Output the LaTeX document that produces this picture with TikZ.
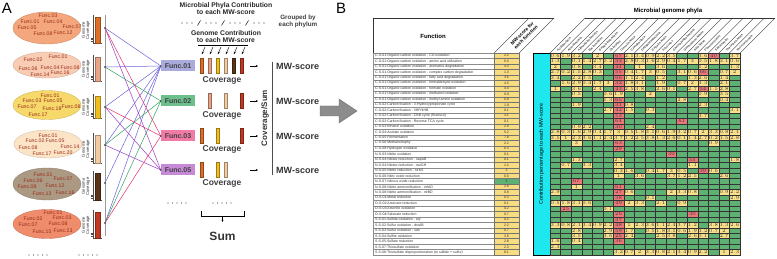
\documentclass[tikz,border=0pt]{standalone}
\usepackage{fontspec}
\setmainfont{Liberation Sans}
\usetikzlibrary{shapes.geometric,% ellipses for the phyla
arrows.meta,%                       small arrow heads
positioning}
\definecolor{ph1}{HTML}{F4A77C}
\definecolor{ph2}{HTML}{F9CCB4}
\definecolor{ph3}{HTML}{F6D86B}
\definecolor{ph4}{HTML}{FCE4C7}
\definecolor{ph5}{HTML}{AC9983}
\definecolor{ph6}{HTML}{EE8C6C}
\definecolor{bar1}{HTML}{DD6F26}
\definecolor{bar2}{HTML}{E9A486}
\definecolor{bar3}{HTML}{F1BD1F}
\definecolor{bar4}{HTML}{F4CBA0}
\definecolor{bar5}{HTML}{5A3519}
\definecolor{bar6}{HTML}{C03A22}
\definecolor{fb1}{HTML}{A9ABDD}
\definecolor{fb2}{HTML}{6DBF8B}
\definecolor{fb3}{HTML}{F27AA6}
\definecolor{fb5}{HTML}{C68AD7}
\definecolor{ln1}{HTML}{6A62D8}
\definecolor{ln2}{HTML}{2FA45E}
\definecolor{ln3}{HTML}{E5306C}
\definecolor{ln5}{HTML}{9B3DC4}
\definecolor{fntext}{HTML}{9A2B16}
\definecolor{hgreen}{HTML}{5FB173}
\definecolor{hyel}{HTML}{F9E08B}
\definecolor{hred}{HTML}{EC7779}
\definecolor{myel}{HTML}{F8DC7F}
\definecolor{hcyan}{HTML}{1FE7EF}
\newcommand{\fsz}[1]{\fontsize{#1}{#1}\selectfont}
\tikzset{every node/.style={font=\fsz{5}, inner sep=0pt},
  phylum/.style={ellipse, minimum width=68pt, line width=0.4pt},
  fn/.style={font=\fsz{5.2}, text=fntext},
  funcbox/.style={font=\bfseries\fsz{7}, text=black!75, minimum width=34pt,
    minimum height=11pt, inner sep=1pt},
  covtxt/.style={font=\bfseries\fsz{8.5}, text=black!75},
  mwtxt/.style={font=\bfseries\fsz{9}, text=black!80, anchor=west},
  hdr/.style={font=\bfseries\fontsize{6.8}{7.2}\selectfont, align=center, text=black!85},
  smallarr/.style={-{Stealth[length=2.2pt,width=2pt]}, line width=0.45pt},
  hline/.style={line width=0.35pt, black!80},
  frow/.style={font=\fsz{3.5}, text=black!80, anchor=west},
  cell/.style={draw=black!80, line width=0.3pt},
  cellval/.style={font=\fsz{3}, text=black!80}}
% the Func labels inside one phylum ellipse
\newcommand{\phyfuncs}[2]{\foreach \fno/\px/\py in {#2}
  \node[fn] (#1-\fno) at (\px,\py) {Func.\fno};}
% genome coverage bar beside a phylum: name, base, top, colour
\newcommand{\covbar}[4]{%
  \draw[line width=0.4pt, black!70] (93,{#3-2}) -- (93,#2) -- (102,#2);
  \foreach \q in {1,2,3}
    \draw[line width=0.3pt, black!70] (90.5,{#2-\q*1.7}) -- (93,{#2-\q*1.7});
  \draw[fill=#4, draw=#4!70!black, line width=0.3pt] (95.5,#2) rectangle (100.5,#3);
  \node[rotate=90, align=center, font=\fontsize{4.2}{4.4}\selectfont, text=black!80]
    (#1) at (86,{(#2+#3)/2}) {Genome\\Coverage};}
% bars of one function row: row y, position/colour pairs
\newcommand{\genbars}[2]{\foreach \kk/\cc in {#2}
  \draw[fill=\cc, draw=\cc!65!black, line width=0.3pt]
    ({194+\kk*8-1.5},{#1-7.5}) rectangle ++(3,15);}

\begin{document}
\begin{tikzpicture}[x=1pt,y=-1pt]
  \useasboundingbox (0,0) rectangle (777,259);
  \node[font=\fsz{15}] (la) at (7,8) {A};
  \node[font=\fsz{15}] (lb) at (341,8) {B};
  % phyla with their functions
  \node[phylum, fill=ph1, draw=ph1!85!black, minimum height=32pt] (e1) at (47,28) {};
  \node[phylum, fill=ph2, draw=ph2!85!black, minimum height=26pt] (e2) at (47,65) {};
  \node[phylum, fill=ph3, draw=ph3!85!black, minimum height=29pt] (e3) at (47,105) {};
  \node[phylum, fill=ph4, draw=ph4!85!black, minimum height=28pt] (e4) at (48,144) {};
  \node[phylum, fill=ph5, draw=ph5!85!black, minimum height=32pt] (e5) at (47,184) {};
  \node[phylum, fill=ph6, draw=ph6!85!black, minimum height=29pt] (e6) at (47,224) {};
  \phyfuncs{e1}{03/48/16, 01/30/22, 04/53/22, 05/27/28, 07/72/27, 08/43/34, 12/63/33}
  \phyfuncs{e2}{01/58/57, 02/33/60, 06/28/69, 04/50/68, 08/70/68, 14/40/75, 16/60/73}
  \phyfuncs{e3}{01/50/96, 03/32/101, 05/53/101, 07/27/107, 18/52/109, 08/71/107, 17/38/115}
  \phyfuncs{e4}{01/48/136, 02/35/141, 05/55/141, 08/28/148, 14/70/147, 17/42/154, 20/63/153}
  \phyfuncs{e5}{01/43/175, 06/33/181, 07/63/179, 09/27/187, 12/55/186, 13/42/194, 16/65/193}
  \phyfuncs{e6}{01/53/213, 02/33/219, 03/62/218, 07/28/225, 08/58/224, 15/42/232, 23/63/231}
  \covbar{g1}{43}{17}{bar1}
  \covbar{g2}{81}{57}{bar2}
  \covbar{g3}{118}{96}{bar3}
  \covbar{g4}{163}{135}{bar4}
  \covbar{g5}{200}{173}{bar5}
  \covbar{g6}{238}{212}{bar6}
  \draw[black!40, line width=1pt] (105,15) -- (105,236);
  \foreach \dd/\yy in {d1/28, d2/67, d3/107, d4/145, d5/183, d6/223}
    \coordinate (\dd) at (105,\yy);
  % functions
  \node[funcbox, fill=fb1] (f1) at (178,66) {Func.01};
  \node[funcbox, fill=fb2] (f2) at (178,101) {Func.02};
  \node[funcbox, fill=fb3] (f3) at (178,136) {Func.03};
  \node[funcbox, fill=fb5] (f5) at (178,170) {Func.05};
  \foreach \s/\t/\cc in {d1/f1/ln1, d2/f1/ln1, d3/f1/ln1, d4/f1/ln1, d5/f1/ln1, d6/f1/ln1,
      d2/f2/ln2, d4/f2/ln2, d6/f2/ln2, d1/f3/ln3, d3/f3/ln3, d6/f3/ln3,
      d1/f5/ln5, d3/f5/ln5, d4/f5/ln5}
    \draw[\cc, line width=0.5pt] (\s) -- (\t.west);
  \foreach \dd in {d1,d2,d3,d4,d5,d6} \fill[black!65] (\dd) circle (1.1pt);
  \foreach \t in {f1,f2,f3,f5} \fill[black!75] (\t.west) circle (0.9pt);
  % genome contributions
  \genbars{66}{1/bar1, 2/bar2, 3/bar3, 4/bar4, 5/bar5, 6/bar6}
  \genbars{101}{2/bar2, 4/bar4, 6/bar6}
  \genbars{136}{1/bar1, 3/bar3, 6/bar6}
  \genbars{170}{1/bar1, 3/bar3, 4/bar4}
  \foreach \yy/\nm in {80/cv1, 115/cv2, 149/cv3, 183/cv5}
    \node[covtxt] (\nm) at (222,\yy) {Coverage};
  \node[hdr] (phc) at (226,8.5) {Microbial Phyla Contribution\\to each MW-score};
  \foreach \g in {0,1,2,3} {
    \foreach \dx in {0,5,10} \fill[black!80] ({182+\g*24+\dx},23) circle (0.6pt);
    \ifnum\g<3 \draw[line width=0.45pt] ({182+\g*24+15.5},25.5) -- ++(3,-5); \fi}
  \node[hdr, font=\bfseries\fontsize{6.3}{6.8}\selectfont, text=black!75] (grp) at (298,21.5) {Grouped by\\each phylum};
  \node[hdr] (gnc) at (226,36.5) {Genome Contribution\\to each MW-score};
  \draw[line width=0.45pt] (198,45) -- (248,45);
  \foreach \kk in {1,...,6}
    \draw[smallarr] ({194+\kk*8+3},47) -- ({194+\kk*8},54);
  % scores
  \foreach \yy [count=\n] in {66,101,136,170} {
    \coordinate (a\n) at (250,\yy);
    \draw[smallarr] (a\n) -- ++(8,0);
    \node[mwtxt] (mw\n) at (276,\yy) {MW-score};}
  \draw[line width=0.5pt, black!70] (272,62) -- (272,175);
  \node[rotate=90, font=\bfseries\fsz{8}, text=black!80] (csum) at (265,118) {Coverage/Sum};
  \foreach \xs in {168,213} \foreach \dx in {0,...,4} \fill[black!70] ({\xs+\dx*4.5},203) circle (0.55pt);
  \foreach \xs in {29,79} \foreach \dx in {0,...,4} \fill[black!70] ({\xs+\dx*4.5},255) circle (0.55pt);
  \draw[line width=0.5pt] (201,211) -- (201,216) -- (244,216) -- (244,211);
  \coordinate (br) at (222.5,216);
  \node[font=\bfseries\fsz{12}, text=black!80] (sum) at (222.5,236) {Sum};
  \draw[smallarr] (br) -- ++(0,6);
  % big arrow between the panels
  \draw[fill=black!45, draw=black!60, line width=0.4pt] (320,106) -- (339,106) -- (339,99)
    -- (357,111) -- (339,123) -- (339,116) -- (320,116) -- cycle;
  % B: function table
  \draw[hline] (373,18) -- (554,18);
  \draw[hline] (373,18) -- (373,53);
  \node[font=\bfseries\fsz{6}] (fh) at (433,36) {Function};
  \draw[hline] (494,53) -- (529,18);
  \draw[hline] (519,53) -- (554,18);
  \node[rotate=45, align=center, font=\bfseries\fontsize{4.8}{5.4}\selectfont] (mwh) at (524,35.5) {MW-score for\\each function};
  \foreach \fname/\mw [count=\r from 0] in {
      {C-S-01:Organic carbon oxidation - CO oxidation}/2.2,
      {C-S-01:Organic carbon oxidation - amino acid utilization}/6.0,
      {C-S-01:Organic carbon oxidation - aromatics degradation}/4.3,
      {C-S-01:Organic carbon oxidation - complex carbon degradation}/1.3,
      {C-S-01:Organic carbon oxidation - fatty acid degradation}/3.6,
      {C-S-01:Organic carbon oxidation - formaldehyde oxidation}/4.5,
      {C-S-01:Organic carbon oxidation - formate oxidation}/4.4,
      {C-S-01:Organic carbon oxidation - methanol oxidation}/0.9,
      {C-S-01:Organic carbon oxidation - methyl amine oxidation}/0.9,
      {C-S-02:Carbon fixation - 3-Hydroxypropionate cycle}/1.9,
      {C-S-02:Carbon fixation - 3HP/4HB}/0.1,
      {C-S-02:Carbon fixation - CBB cycle (Rubisco)}/3.1,
      {C-S-02:Carbon fixation - Reverse TCA cycle}/0.1,
      {C-S-03:Ethanol oxidation}/2.9,
      {C-S-04:Acetate oxidation}/5.2,
      {C-S-05:Fermentation}/7.8,
      {C-S-06:Methanotrophy}/2.2,
      {C-S-08:Hydrogen oxidation}/6.3,
      {N-S-03:Nitrite oxidation}/0.1,
      {N-S-04:Nitrate reduction - napAB}/0.1,
      {N-S-04:Nitrate reduction - narGH}/1.2,
      {N-S-05:Nitrite reduction - nirKS}/3,
      {N-S-06:Nitric oxide reduction}/0.6,
      {N-S-07:Nitrous oxide reduction}/5,
      {N-S-08:Nitrite ammonification - nrfAD}/2.8,
      {N-S-08:Nitrite ammonification - nirBD}/0.8,
      {O-S-01:Metal reduction}/0.3,
      {O-S-02:Arsenate reduction}/0.1,
      {O-S-03:Arsenite oxidation}/0.2,
      {O-S-04:Selenate reduction}/0.7,
      {S-S-01:Sulfide oxidation - sqr}/0.2,
      {S-S-02:Sulfur oxidation - dsrAB}/2.2,
      {S-S-03:Sulfur oxidation - sdo}/0.7,
      {S-S-04:Sulfite oxidation}/3.8,
      {S-S-05:Sulfate reduction}/2.8,
      {S-S-07:Thiosulfate oxidation}/2.3,
      {S-S-08:Thiosulfate disproportionation (to sulfide + sulfur)}/8.1} {
    \ifnum\r=23 \def\mc{hgreen}\else \def\mc{myel}\fi
    \draw[black!45, line width=0.3pt] (373,{53+\r*5.46}) rectangle ++(121,5.46);
    \node[frow] (fn\r) at (375,{53+\r*5.46+2.73}) {\fname};
    \draw[black!55, fill=\mc, line width=0.3pt] (494,{53+\r*5.46}) rectangle ++(25,5.46);
    \node[font=\fsz{3.5}, text=black!80] (mv\r) at (506.5,{53+\r*5.46+2.73}) {\mw};}
  % B: contributions of the phyla
  \draw[fill=hcyan, line width=0.45pt] (533,53) rectangle (550,255);
  \node[rotate=90, font=\fsz{5.3}] (cpct) at (541.5,154) {Contribution percentage to each MW-score};
  \node[font=\bfseries\fsz{6}] (mgp) at (668,11) {Microbial genome phyla};
  \draw[hline] (585,18) -- (775,18);
  \foreach \nm [count=\cl from 0] in {Acidobacteria, Actinobacteria, Alphaproteobacteria,
      Bacteroidetes, Betaproteobacteria, Chloroflexi, Crenarchaeota, Cyanobacteria,
      Deltaproteobacteria, Euryarchaeota, Firmicutes, Gammaproteobacteria,
      Gemmatimonadetes, Nitrospirae, Planctomycetes, Spirochaetes, Thaumarchaeota,
      Verrucomicrobia} {
    \draw[hline] ({550+\cl*10.55},53) -- ++(35,-35);
    \node[rotate=45, anchor=west, font=\fsz{3}] (p\cl) at ({550+\cl*10.55+7.3},51) {\nm};}
  \draw[hline] (740,53) -- ++(35,-35);
  \foreach \pat [count=\r from 0] in {
      {1,1,1,0,1,0,2,1,1,1,1,1,0,0,1,2,0,1},
      {1,0,1,1,1,1,2,1,1,1,1,1,1,1,1,1,1,1},
      {1,0,1,0,1,0,2,0,1,0,1,0,0,0,1,0,0,1},
      {1,1,1,1,1,0,2,1,1,1,1,0,1,1,2,0,1,1},
      {1,0,1,1,0,0,2,1,1,0,1,0,0,1,1,0,1,0},
      {0,1,1,1,1,1,2,1,1,0,1,0,1,1,1,0,1,0},
      {1,0,1,0,1,0,2,1,1,0,1,1,0,1,2,1,1,0},
      {0,0,1,0,0,1,1,0,0,1,0,0,0,0,1,0,1,0},
      {0,0,0,0,0,1,2,0,0,0,0,0,1,0,0,0,1,0},
      {0,0,1,0,0,0,2,1,0,0,0,0,0,0,1,0,0,0},
      {0,0,0,0,0,1,2,1,0,1,0,0,0,0,0,0,0,1},
      {0,0,0,0,0,0,2,0,0,0,0,0,0,0,1,0,0,0},
      {0,0,0,0,0,0,2,0,0,0,0,0,2,0,0,0,0,0},
      {0,0,1,1,0,0,2,0,0,1,0,0,0,0,0,0,0,0},
      {1,1,1,1,1,1,1,1,1,1,1,1,1,1,1,1,1,1},
      {1,1,1,1,1,1,1,1,1,1,1,1,1,1,1,1,1,1},
      {0,0,1,0,0,0,2,0,0,0,0,0,0,0,0,1,0,0},
      {0,0,0,0,0,0,2,0,0,0,0,0,0,0,0,0,0,0},
      {0,0,0,0,0,0,0,0,0,0,0,2,0,0,0,0,0,0},
      {0,0,1,0,0,0,1,0,0,0,0,0,0,2,0,0,0,1},
      {0,1,0,1,0,0,1,0,0,0,0,0,0,1,0,0,0,0},
      {0,0,0,0,0,0,1,1,0,1,1,1,1,0,2,1,0,0},
      {0,0,0,0,0,0,1,0,1,0,0,1,1,1,0,0,1,0},
      {0,0,2,0,0,0,0,0,0,0,0,0,0,0,0,0,0,0},
      {0,0,1,0,0,0,2,0,0,0,0,0,0,0,0,0,0,0},
      {1,0,0,0,0,0,2,1,0,0,0,1,1,1,0,0,1,1},
      {0,0,0,0,0,0,2,0,0,1,0,0,0,0,0,0,0,1},
      {1,1,1,1,0,0,2,1,1,0,1,0,1,0,0,0,0,0},
      {0,2,0,0,0,1,0,0,0,0,0,0,0,0,0,0,0,0},
      {0,0,0,0,0,0,2,0,0,0,0,0,0,2,0,0,0,0},
      {0,0,0,0,0,0,2,0,0,0,0,0,0,0,0,0,0,0},
      {1,1,1,1,1,1,2,1,1,1,1,1,1,1,0,1,1,1},
      {0,0,1,0,0,1,2,1,0,1,1,1,1,1,1,1,1,0},
      {0,0,1,0,0,1,2,1,0,0,1,1,0,1,1,0,1,0},
      {1,0,1,0,0,0,2,0,0,0,0,0,0,0,0,0,0,0},
      {1,0,0,0,0,0,0,0,0,0,0,0,0,0,0,0,0,0},
      {0,0,0,0,0,0,1,1,1,1,1,1,1,1,1,0,1,1}} {
    \foreach \cv [count=\cl from 0] in \pat {
      \ifnum\cv=0 \def\hc{hgreen}\fi
      \ifnum\cv=1 \def\hc{hyel}\pgfmathsetmacro\v{(mod(\r*7+\cl*13+5,38)+1)/10}\fi
      \ifnum\cv=2 \def\hc{hred}\pgfmathsetmacro\v{mod(\r*11+\cl*7,45)+25}\fi
      \draw[cell, fill=\hc] ({550+\cl*10.55},{53+\r*5.46}) rectangle ++(10.55,5.46);
      \ifnum\cv>0
        \node[cellval] (h-\r-\cl) at ({550+\cl*10.55+5.275},{53+\r*5.46+2.73})
          {\pgfmathprintnumber[fixed,precision=1]{\v}};
      \fi}}
\end{tikzpicture}
\end{document}
